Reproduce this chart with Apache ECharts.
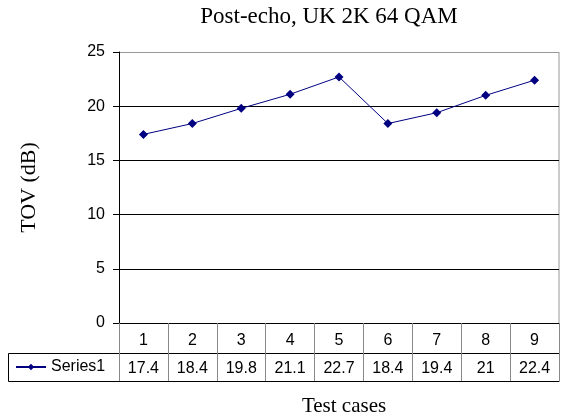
<!DOCTYPE html>
<html>
<head>
<meta charset="utf-8">
<script src="https://cdn.jsdelivr.net/npm/echarts@6/dist/echarts.min.js"></script>
<style>
  html, body { margin: 0; padding: 0; background: #fff; }
  #chart { width: 563px; height: 416px; }
</style>
</head>
<body>
<div id="chart"></div>
<script>
// data
const testCases = ['1', '2', '3', '4', '5', '6', '7', '8', '9'];
const series1 = [17.4, 18.4, 19.8, 21.1, 22.7, 18.4, 19.4, 21, 22.4];
const yTicks = [0, 5, 10, 15, 20, 25];

const serif = '"Liberation Serif", "DejaVu Serif", serif';
const sans = '"Liberation Sans", Arial, sans-serif';
const navy = '#000080';

// plot area
const gLeft = 119, gRight = 4, gTop = 52, gBottom = 93;
const rowH = 30, row2H = 28;

const chart = echarts.init(document.getElementById('chart'));
chart.setOption({
    animation: false,
    title: [
        {
            text: 'Post-echo, UK 2K 64 QAM',
            left: 324, top: 0, textAlign: 'center',
            textStyle: { fontFamily: serif, fontSize: 23, fontWeight: 'normal', color: '#000' },
        },
        {
            text: 'Test cases',
            left: 339, top: 391, textAlign: 'center',
            textStyle: { fontFamily: serif, fontSize: 21, fontWeight: 'normal', color: '#000' },
        },
    ],
    legend: {
        data: ['Series1'],
        left: 15, top: 359, padding: 0,
        itemWidth: 30, itemHeight: 8, itemGap: 4,
        textStyle: { fontFamily: sans, fontSize: 16, color: '#000' },
    },
    grid: { left: gLeft, right: gRight, top: gTop, bottom: gBottom },
    xAxis: [
        {
            type: 'category',
            data: testCases,
            position: 'bottom',
            axisLine: { lineStyle: { color: '#000', width: 1 } },
            axisTick: { show: true, length: rowH, lineStyle: { color: '#888' } },
            axisLabel: { margin: 10, fontFamily: sans, fontSize: 16, color: '#000' },
        },
        {
            type: 'category',
            data: series1.map(String),
            position: 'bottom',
            offset: rowH,
            axisLine: { lineStyle: { color: '#000', width: 1 } },
            axisTick: { show: true, length: row2H, lineStyle: { color: '#888' } },
            axisLabel: { margin: 8, fontFamily: sans, fontSize: 16, color: '#000' },
        },
        {
            type: 'category',
            data: testCases,
            position: 'bottom',
            offset: rowH + row2H,
            axisLine: { lineStyle: { color: '#000', width: 1 } },
            axisTick: { show: false },
            axisLabel: { show: false },
        },
    ],
    yAxis: {
        type: 'value',
        min: yTicks[0], max: yTicks[yTicks.length - 1], interval: 5,
        name: 'TOV (dB)', nameLocation: 'middle', nameGap: 79,
        nameTextStyle: { fontFamily: serif, fontSize: 22, color: '#000' },
        axisLine: { show: true, lineStyle: { color: '#000' } },
        axisTick: { show: true, length: 6, lineStyle: { color: '#000' } },
        axisLabel: { margin: 14, fontFamily: sans, fontSize: 16, color: '#000' },
        splitLine: {
            lineStyle: { color: ['#000', '#000', '#000', '#000', '#000', '#999'], width: 1 },
        },
    },
    graphic: [
        {
            type: 'line',
            shape: { x1: 559, y1: gTop, x2: 559, y2: 416 - gBottom },
            style: { stroke: '#999', lineWidth: 1 },
        },
        {
            type: 'rect',
            shape: { x: 8.5, y: 416 - gBottom + rowH + 0.5, width: gLeft - 8, height: row2H },
            style: { fill: 'none', stroke: '#000', lineWidth: 1 },
        },
    ],
    series: [
        {
            name: 'Series1',
            type: 'line',
            data: series1,
            color: navy,
            symbol: 'diamond',
            symbolSize: 9,
            lineStyle: { width: 1, color: navy },
            itemStyle: { color: navy },
        },
    ],
});
</script>
</body>
</html>
